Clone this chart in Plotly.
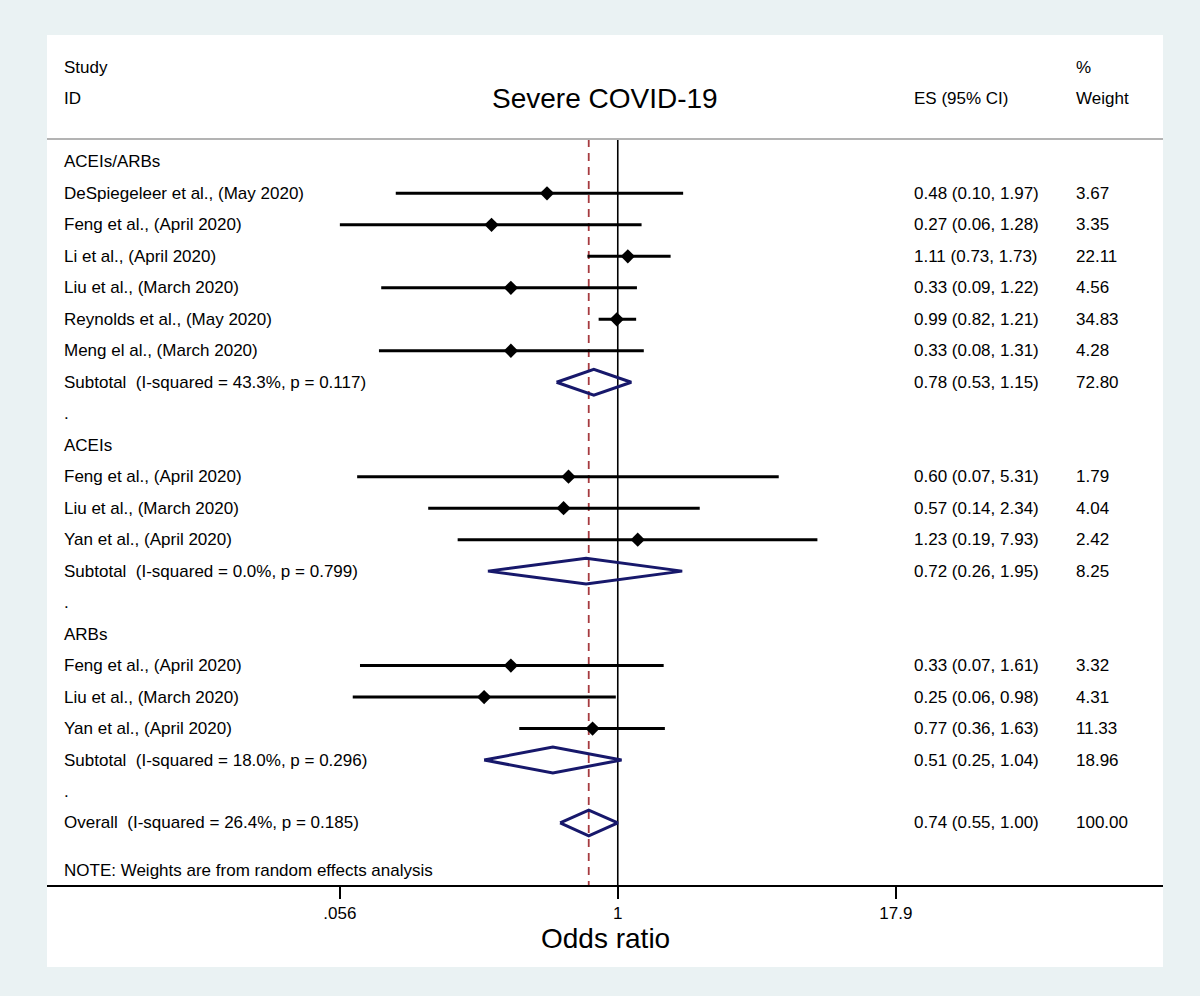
import math
import plotly.graph_objects as go

# rows of the forest plot, top to bottom
row_labels = [
    "ACEIs/ARBs",
    "DeSpiegeleer et al., (May 2020)",
    "Feng et al., (April 2020)",
    "Li et al., (April 2020)",
    "Liu et al., (March 2020)",
    "Reynolds et al., (May 2020)",
    "Meng el al., (March 2020)",
    "Subtotal  (I-squared = 43.3%, p = 0.117)",
    ".",
    "ACEIs",
    "Feng et al., (April 2020)",
    "Liu et al., (March 2020)",
    "Yan et al., (April 2020)",
    "Subtotal  (I-squared = 0.0%, p = 0.799)",
    ".",
    "ARBs",
    "Feng et al., (April 2020)",
    "Liu et al., (March 2020)",
    "Yan et al., (April 2020)",
    "Subtotal  (I-squared = 18.0%, p = 0.296)",
    ".",
    "Overall  (I-squared = 26.4%, p = 0.185)",
]
row_kind = [
    "head", "study", "study", "study", "study", "study", "study", "pool", "gap",
    "head", "study", "study", "study", "pool", "gap",
    "head", "study", "study", "study", "pool", "gap",
    "pool",
]
es = [None, 0.48, 0.27, 1.11, 0.33, 0.99, 0.33, 0.78, None,
      None, 0.60, 0.57, 1.23, 0.72, None,
      None, 0.33, 0.25, 0.77, 0.51, None,
      0.74]
ci_low = [None, 0.10, 0.056, 0.73, 0.086, 0.82, 0.084, 0.53, None,
          None, 0.067, 0.14, 0.19, 0.26, None,
          None, 0.069, 0.064, 0.36, 0.25, None,
          0.55]
ci_high = [None, 1.97, 1.28, 1.73, 1.22, 1.21, 1.31, 1.15, None,
           None, 5.31, 2.34, 7.93, 1.95, None,
           None, 1.61, 0.98, 1.63, 1.04, None,
           1.00]
weights = [None, 3.67, 3.35, 22.11, 4.56, 34.83, 4.28, 72.80, None,
           None, 1.79, 4.04, 2.42, 8.25, None,
           None, 3.32, 4.31, 11.33, 18.96, None,
           100.00]
overall_es = 0.74

tick_values = [0.056, 1, 17.9]
tick_labels = [".056", "1", "17.9"]

FONT = "Liberation Sans, Arial, sans-serif"
NAVY = "#17186b"
RED = "#a63a3f"
X_RANGE = [-2.571, 2.456]
Y_RANGE = [22.97, -4.03]
HEADER_LINE = -0.73

lg = lambda v: math.log10(v)

fig = go.Figure()

# study confidence intervals
ci_x, ci_y, pt_x, pt_y = [], [], [], []
for i, k in enumerate(row_kind):
    if k == "study":
        ci_x += [lg(ci_low[i]), lg(ci_high[i]), None]
        ci_y += [i, i, None]
        pt_x.append(lg(es[i]))
        pt_y.append(i)

# reference lines
fig.add_trace(go.Scatter(
    x=[0, 0], y=[HEADER_LINE, Y_RANGE[0]], mode="lines",
    line=dict(color="black", width=1.6), hoverinfo="skip", showlegend=False,
))
fig.add_trace(go.Scatter(
    x=[lg(overall_es)] * 2, y=[HEADER_LINE, Y_RANGE[0]], mode="lines",
    line=dict(color=RED, width=1.8, dash="8px,6px"), hoverinfo="skip",
    showlegend=False,
))

fig.add_trace(go.Scatter(
    x=ci_x, y=ci_y, mode="lines", line=dict(color="black", width=3),
    hoverinfo="skip", showlegend=False,
))
fig.add_trace(go.Scatter(
    x=pt_x, y=pt_y, mode="markers",
    marker=dict(symbol="diamond", size=11, color="black"),
    hoverinfo="skip", showlegend=False,
))

# pooled estimates as diamonds
half = 0.41
for i, k in enumerate(row_kind):
    if k == "pool":
        lo, mid, hi = lg(ci_low[i]), lg(es[i]), lg(ci_high[i])
        fig.add_trace(go.Scatter(
            x=[lo, mid, hi, mid, lo], y=[i, i - half, i, i + half, i],
            mode="lines", line=dict(color=NAVY, width=3),
            hoverinfo="skip", showlegend=False,
        ))

# text columns
X_LABEL, X_ES, X_W = 0.0134, 0.7751, 0.9203
anns = []


def txt(x, y, s, size=17, xanchor="left", xref="paper", yref="y"):
    anns.append(dict(
        x=x, y=y, xref=xref, yref=yref, text=s, showarrow=False,
        xanchor=xanchor, yanchor="middle",
        font=dict(family=FONT, size=size, color="black"),
    ))


txt(X_LABEL, -3, "Study")
txt(X_LABEL, -2, "ID")
txt(0.5, -2, "Severe COVID-19", size=28, xanchor="center")
txt(X_ES, -2, "ES (95% CI)")
txt(X_W, -3, "%")
txt(X_W, -2, "Weight")

for i, lab in enumerate(row_labels):
    txt(X_LABEL, i, lab)
    if es[i] is not None:
        txt(X_ES, i, f"{es[i]:.2f} ({ci_low[i]:.2f}, {ci_high[i]:.2f})")
        txt(X_W, i, f"{weights[i]:.2f}")

txt(X_LABEL, 22.5, "NOTE: Weights are from random effects analysis")
txt(0.5, -0.0624, "Odds ratio", size=28, xanchor="center", yref="paper")

fig.update_layout(
    width=1200,
    height=996,
    margin=dict(l=47, r=37, t=35, b=111),
    paper_bgcolor="#eaf2f3",
    plot_bgcolor="white",
    annotations=anns,
    shapes=[
        # white panel under the axis labels
        dict(type="rect", xref="paper", yref="paper", x0=0, x1=1,
             y0=-0.0965, y1=0, fillcolor="white", line_width=0, layer="below"),
        # header separator
        dict(type="line", xref="paper", yref="y", x0=0, x1=1,
             y0=HEADER_LINE, y1=HEADER_LINE,
             line=dict(color="#b3b3b3", width=2)),
    ],
    xaxis=dict(
        range=X_RANGE,
        tickvals=[lg(v) for v in tick_values],
        ticktext=tick_labels,
        showgrid=False,
        zeroline=False,
        showline=True,
        linecolor="black",
        linewidth=2,
        ticks="outside",
        ticklen=12,
        tickwidth=2,
        tickcolor="black",
        tickfont=dict(family=FONT, size=17, color="black"),
        fixedrange=True,
    ),
    yaxis=dict(
        range=Y_RANGE,
        visible=False,
        showgrid=False,
        zeroline=False,
        fixedrange=True,
    ),
)

fig.write_html(
    "out.html",
    config={"displayModeBar": False},
    post_script="document.body.style.margin='0';",
)
